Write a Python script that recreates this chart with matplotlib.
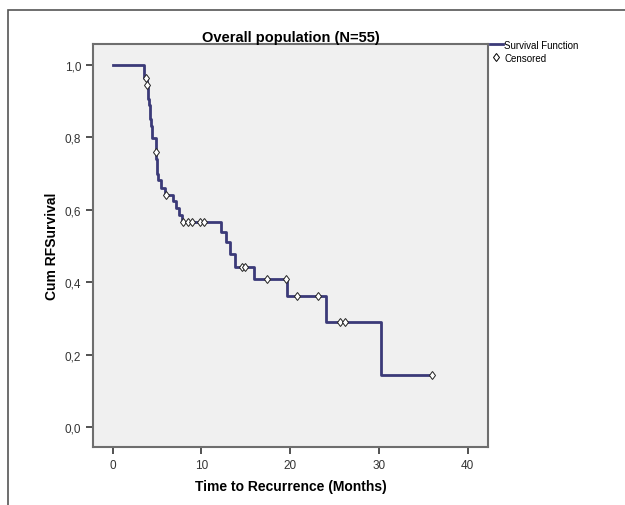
import matplotlib.pyplot as plt
from matplotlib.lines import Line2D
from matplotlib.patches import Rectangle
from matplotlib.ticker import FuncFormatter

plt.rcParams['font.family'] = ['Liberation Sans', 'DejaVu Sans']

# step curve: time of each drop and survival level after it
step_times = [0, 3.50, 3.60, 3.85, 3.95, 4.05, 4.10, 4.20, 4.25, 4.35, 4.50,
              4.85, 4.95, 5.00, 5.05, 5.15, 5.50, 5.95, 6.80, 7.20, 7.50, 7.80,
              12.2, 12.8, 13.2, 13.8, 15.9, 19.7, 24.1, 30.3]
step_surv = [1.0, 0.982, 0.964, 0.945, 0.926, 0.907, 0.888, 0.869, 0.850, 0.831, 0.797,
             0.759, 0.740, 0.720, 0.700, 0.681, 0.661, 0.642, 0.623, 0.604, 0.585, 0.566,
             0.538, 0.510, 0.478, 0.443, 0.408, 0.361, 0.289, 0.145]
end_time = 36.0

# censored observations
cens_times = [3.75, 3.90, 4.90, 6.05, 7.95, 8.5, 8.95, 9.9, 10.25,
              14.6, 14.9, 17.4, 19.5, 20.8, 23.1, 25.6, 26.2, 36.0]
cens_surv = [0.964, 0.945, 0.759, 0.642, 0.566, 0.566, 0.566, 0.566, 0.566,
             0.443, 0.443, 0.408, 0.408, 0.361, 0.361, 0.289, 0.289, 0.145]

line_col = '#3b3a78'

fig = plt.figure(figsize=(6.25, 5.06), dpi=100)
fig.patches.append(Rectangle((0.0128, -0.1), 1.2, 0.1 + 0.978, transform=fig.transFigure,
                             fill=False, edgecolor='#555555', linewidth=1.2))

ax = fig.add_axes([0.1488, 0.1146, 0.632, 0.7966])
ax.set_facecolor('#f0f0f0')

ax.step(step_times + [end_time], step_surv + [step_surv[-1]], where='post',
        color=line_col, linewidth=2.0, zorder=2)
ax.plot(cens_times, cens_surv, linestyle='none', marker='d', markersize=4.5,
        markerfacecolor='white', markeredgecolor='#222222', markeredgewidth=0.7, zorder=3)

ax.set_xlim(-2.2, 42.3)
ax.set_ylim(-0.055, 1.058)
ax.set_xticks([0, 10, 20, 30, 40])
ax.set_yticks([0.0, 0.2, 0.4, 0.6, 0.8, 1.0])
ax.yaxis.set_major_formatter(FuncFormatter(lambda v, p: ('%.1f' % v).replace('.', ',')))
ax.tick_params(direction='out', length=5, width=1.2, colors='#333333', labelsize=8.5)

for s in ax.spines.values():
    s.set_color('#6e6e6e')
    s.set_linewidth(1.5)

ax.set_title('Overall population (N=55)', fontsize=10.5, fontweight='bold', pad=2)
ax.set_xlabel('Time to Recurrence (Months)', fontsize=10, fontweight='bold', labelpad=6)
ax.set_ylabel('Cum RFSurvival', fontsize=10, fontweight='bold', labelpad=4)

handles = [Line2D([], [], color=line_col, linewidth=2.0),
           Line2D([], [], linestyle='none', marker='d', markersize=4.5,
                  markerfacecolor='white', markeredgecolor='black', markeredgewidth=0.7)]
ax.legend(handles, ['Survival Function', 'Censored'], loc='upper left',
          bbox_to_anchor=(0.995, 1.02), frameon=False, fontsize=7,
          handlelength=1.3, handletextpad=0.2, borderaxespad=0.0, labelspacing=0.3)

plt.savefig('out.png', dpi=100)
